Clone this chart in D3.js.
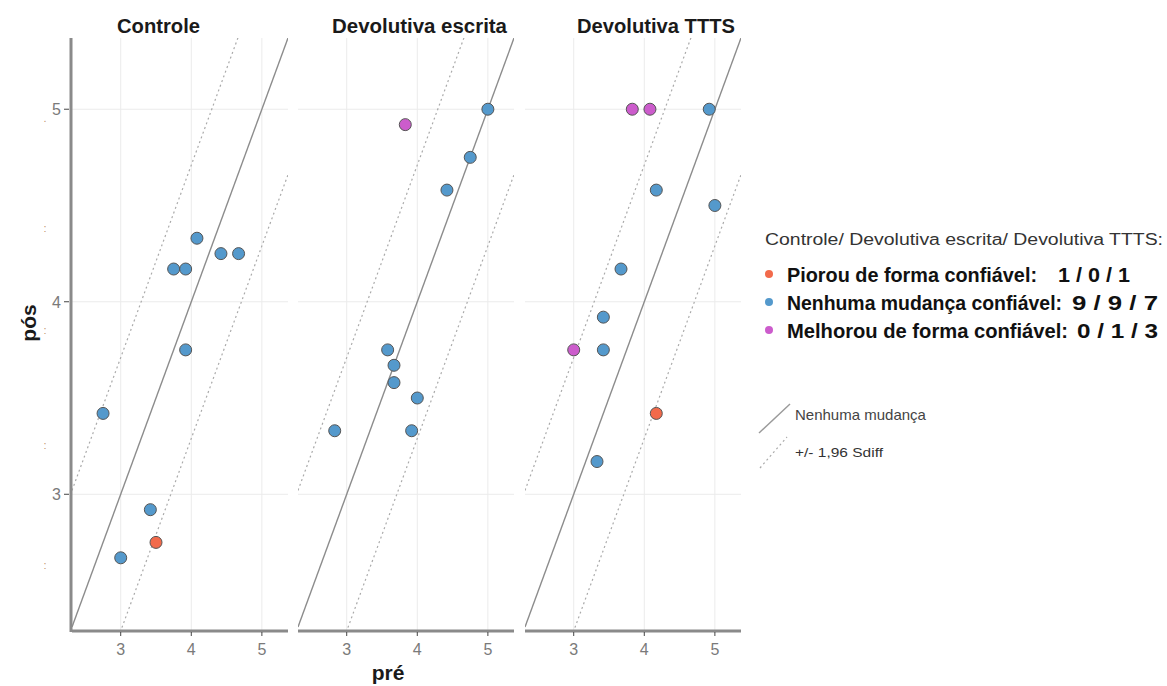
<!DOCTYPE html>
<html>
<head>
<meta charset="utf-8">
<script src="https://cdn.jsdelivr.net/npm/d3@7"></script>
<style>
  body { margin: 0; background: #fff; }
  svg { font-family: "Liberation Sans", Arial, sans-serif; }
  .grid line { stroke: #ebebeb; stroke-width: 1; }
  .tick-label { fill: #7a7a7a; font-size: 16px; }
</style>
</head>
<body>
<div class="chart"></div>
<script>
var width = 1167;
var height = 686;

// data: [pré, pós, status]  status: p = piorou, n = nenhuma, m = melhorou
var controle = [
  [2.75, 3.42, "n"], [3.0, 2.67, "n"], [3.42, 2.92, "n"], [3.5, 2.75, "p"],
  [3.92, 3.75, "n"], [3.75, 4.17, "n"], [3.92, 4.17, "n"], [4.08, 4.33, "n"],
  [4.42, 4.25, "n"], [4.67, 4.25, "n"]
];
var escrita = [
  [3.83, 4.92, "m"], [5.0, 5.0, "n"], [4.75, 4.75, "n"], [4.42, 4.58, "n"],
  [3.58, 3.75, "n"], [3.67, 3.67, "n"], [3.67, 3.58, "n"], [4.0, 3.5, "n"],
  [2.83, 3.33, "n"], [3.92, 3.33, "n"]
];
var ttts = [
  [3.83, 5.0, "m"], [4.08, 5.0, "m"], [4.92, 5.0, "n"], [4.17, 4.58, "n"],
  [5.0, 4.5, "n"], [3.67, 4.17, "n"], [3.42, 3.92, "n"], [3.0, 3.75, "m"],
  [3.42, 3.75, "n"], [4.17, 3.42, "p"], [3.33, 3.17, "n"]
];
var panelTitles = ["Controle", "Devolutiva escrita", "Devolutiva TTTS"];
var ticks = [3, 4, 5];
var sdiff = 0.71;
var legendTitle = "Controle/ Devolutiva escrita/ Devolutiva TTTS:";
var legendLabels = ["Piorou de forma confiável:", "Nenhuma mudança confiável:", "Melhorou de forma confiável:"];
var legendCounts = ["1 / 0 / 1", "9 / 9 / 7", "0 / 1 / 3"];
var statusKeys = ["p", "n", "m"];

var colors = { p: "#f26a4b", n: "#5499cc", m: "#cc5ccc" };

var panels = [
  { title: panelTitles[0], data: controle, left: 72, titleX: 117, titleW: 83 },
  { title: panelTitles[1], data: escrita, left: 298, titleX: 332, titleW: 175 },
  { title: panelTitles[2], data: ttts, left: 525, titleX: 577, titleW: 158 }
];
var panelW = 216;
var plotTop = 38, plotBottom = 630;
var domain = [2.31, 5.37];

var svg = d3.select(".chart").append("svg")
  .attr("width", width)
  .attr("height", height);

var yScale = d3.scaleLinear().domain([2.295, 5.37]).range([plotBottom, plotTop]);

panels.forEach(function(p, i) {
  var xScale = d3.scaleLinear().domain(domain).range([p.left, p.left + panelW]);
  var g = svg.append("g");

  svg.append("clipPath").attr("id", "clip" + i)
    .append("rect")
    .attr("x", p.left).attr("y", plotTop)
    .attr("width", panelW).attr("height", plotBottom - plotTop);

  // grid
  var grid = g.append("g").attr("class", "grid");
  grid.selectAll(".v").data(ticks).enter().append("line")
    .attr("x1", function(d) { return xScale(d); })
    .attr("x2", function(d) { return xScale(d); })
    .attr("y1", plotTop).attr("y2", plotBottom);
  grid.selectAll(".h").data(ticks).enter().append("line")
    .attr("x1", p.left).attr("x2", p.left + panelW)
    .attr("y1", function(d) { return yScale(d); })
    .attr("y2", function(d) { return yScale(d); });

  // reference lines: no change and +/- 1.96 Sdiff
  var lines = g.append("g").attr("clip-path", "url(#clip" + i + ")");
  [0, sdiff, -sdiff].forEach(function(c) {
    lines.append("line")
      .attr("x1", xScale(domain[0])).attr("y1", yScale(domain[0] + c))
      .attr("x2", xScale(domain[1])).attr("y2", yScale(domain[1] + c))
      .attr("stroke", c === 0 ? "#8c8c8c" : "#aaaaaa")
      .attr("stroke-width", c === 0 ? 1.4 : 1.2)
      .attr("stroke-dasharray", c === 0 ? null : "2,3");
  });

  // points
  g.selectAll("circle.pt").data(p.data).enter().append("circle")
    .attr("class", "pt")
    .attr("cx", function(d) { return xScale(d[0]); })
    .attr("cy", function(d) { return yScale(d[1]); })
    .attr("r", 6)
    .attr("fill", function(d) { return colors[d[2]]; })
    .attr("stroke", "#555")
    .attr("stroke-width", 1);

  // x axis
  g.append("line")
    .attr("x1", p.left).attr("x2", p.left + panelW)
    .attr("y1", plotBottom + 1).attr("y2", plotBottom + 1)
    .attr("stroke", "#8a8a8a").attr("stroke-width", 3);
  g.selectAll(".xt").data(ticks).enter().append("line")
    .attr("x1", function(d) { return xScale(d); })
    .attr("x2", function(d) { return xScale(d); })
    .attr("y1", plotBottom + 2).attr("y2", plotBottom + 6)
    .attr("stroke", "#444").attr("stroke-width", 1);
  g.selectAll(".xl").data(ticks).enter().append("text")
    .attr("class", "tick-label")
    .attr("x", function(d) { return xScale(d); })
    .attr("y", 655)
    .attr("text-anchor", "middle")
    .text(function(d) { return d; });

  // title
  svg.append("text")
    .attr("x", p.titleX).attr("y", 33)
    .attr("font-size", "20px").attr("font-weight", "bold")
    .attr("fill", "#1a1a1a")
    .attr("textLength", p.titleW).attr("lengthAdjust", "spacingAndGlyphs")
    .text(p.title);
});

// y axis on first panel
svg.append("line")
  .attr("x1", 71).attr("x2", 71).attr("y1", plotTop).attr("y2", plotBottom + 2)
  .attr("stroke", "#8a8a8a").attr("stroke-width", 3);
svg.selectAll(".yt").data(ticks).enter().append("line")
  .attr("x1", 64).attr("x2", 69)
  .attr("y1", function(d) { return yScale(d); })
  .attr("y2", function(d) { return yScale(d); })
  .attr("stroke", "#444");
svg.selectAll(".yl").data(ticks).enter().append("text")
  .attr("class", "tick-label")
  .attr("x", 61)
  .attr("y", function(d) { return yScale(d) + 6; })
  .attr("text-anchor", "end")
  .text(function(d) { return d; });

// faint scan specks left of the y axis
svg.selectAll(".speck").data([118, 228, 330, 445, 565]).enter().append("text")
  .attr("x", 45).attr("y", function(d) { return d + 4; })
  .attr("font-size", "11px").attr("fill", "#c29670")
  .attr("text-anchor", "middle")
  .text(function(d, i) { return i === 0 ? "." : ":"; });

// axis titles
svg.append("text")
  .attr("transform", "translate(36,323) rotate(-90)")
  .attr("text-anchor", "middle")
  .attr("font-size", "21px").attr("font-weight", "bold")
  .attr("fill", "#1a1a1a")
  .text("pós");
svg.append("text")
  .attr("x", 388).attr("y", 680)
  .attr("text-anchor", "middle")
  .attr("font-size", "21px").attr("font-weight", "bold")
  .attr("fill", "#1a1a1a")
  .text("pré");

// legend
var legend = svg.append("g");
legend.append("text")
  .attr("x", 765).attr("y", 245)
  .attr("font-size", "16px").attr("fill", "#333")
  .attr("textLength", 398).attr("lengthAdjust", "spacingAndGlyphs")
  .text(legendTitle);

var rowY = [282, 310, 338];
var labelW = [250, 275, 281];
var countX = [1058, 1072, 1077];
var countW = [72, 86, 81];
statusKeys.forEach(function(k, i) {
  legend.append("circle")
    .attr("cx", 769).attr("cy", rowY[i] - 8)
    .attr("r", 4)
    .attr("fill", colors[k]);
  legend.append("text")
    .attr("x", 787).attr("y", rowY[i])
    .attr("font-size", "20px").attr("font-weight", "bold").attr("fill", "#111")
    .attr("textLength", labelW[i]).attr("lengthAdjust", "spacingAndGlyphs")
    .text(legendLabels[i]);
  legend.append("text")
    .attr("x", countX[i]).attr("y", rowY[i])
    .attr("font-size", "21px").attr("font-weight", "bold").attr("fill", "#111")
    .attr("textLength", countW[i]).attr("lengthAdjust", "spacingAndGlyphs")
    .text(legendCounts[i]);
});

legend.append("line")
  .attr("x1", 759).attr("y1", 433).attr("x2", 790).attr("y2", 404)
  .attr("stroke", "#9a9a9a").attr("stroke-width", 1.4);
legend.append("text")
  .attr("x", 795).attr("y", 420)
  .attr("font-size", "15px").attr("fill", "#444")
  .text("Nenhuma mudança");
legend.append("line")
  .attr("x1", 760).attr("y1", 468).attr("x2", 787).attr("y2", 437)
  .attr("stroke", "#aaaaaa").attr("stroke-width", 1.2)
  .attr("stroke-dasharray", "2,3");
legend.append("text")
  .attr("x", 795).attr("y", 457)
  .attr("font-size", "12px").attr("fill", "#333")
  .attr("textLength", 88).attr("lengthAdjust", "spacingAndGlyphs")
  .text("+/- 1,96 Sdiff");
</script>
</body>
</html>
